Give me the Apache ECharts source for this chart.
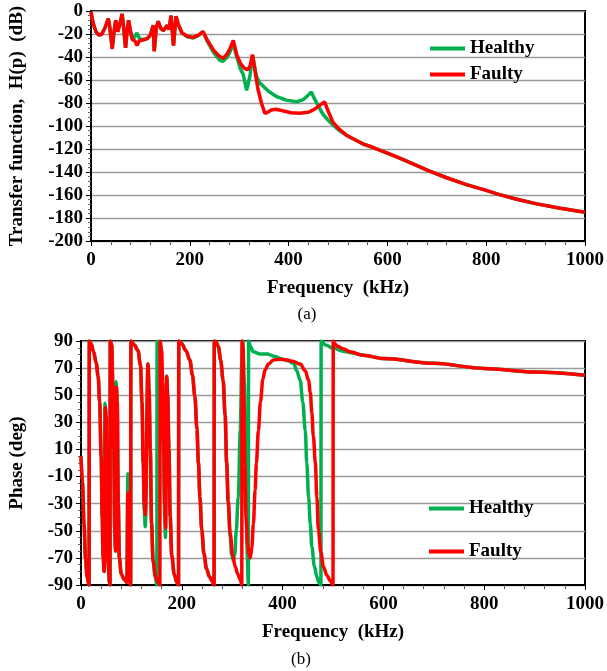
<!DOCTYPE html>
<html>
<head>
<meta charset="utf-8">
<script src="https://cdn.jsdelivr.net/npm/echarts@6/dist/echarts.min.js"></script>
<style>
html,body{margin:0;padding:0;background:#fff;}
#c{width:607px;height:671px;}
</style>
</head>
<body>
<div id="c"></div>
<script>
// ---------- (a) Transfer function magnitude ----------
const magHealthyKHz = [0,4,10,16,22,28,35,38,43,46,50,54,58,63,66,70,73,76,80,84,89,93,98,106,114,120,126,128,132,136,141,147,154,158,162,167,172,177,184,195,207,217,227,235,248,260,266,276,282,288,295,303,308,315,322,327,335,342,360,376,395,416,430,440,446,452,463,470,480,490,503,517,550,570,600,625,660,684,720,760,800,825,860,900,950,1000];
const magHealthyDb  = [-1,-10,-18,-21,-20,-15,-6.5,-14,-33,-20,-8,-18,-12,-2.5,-14,-32,-18,-8,-18,-25,-22,-19,-24,-25,-24,-21,-12.5,-35,-15,-9,-15,-17,-12.5,-16,-4,-30,-4.6,-12,-19,-22.5,-23.5,-21.5,-18,-26,-36,-42.5,-44,-40,-35,-28,-40,-51,-55,-69,-56,-38.5,-57,-62.7,-70,-74.5,-77.5,-79,-77,-73,-70.5,-76,-85,-90,-95,-99,-104,-108,-115.5,-118.5,-123.5,-128,-134.5,-139,-145,-151,-156,-159.5,-163.5,-167.5,-171.5,-175];

const magFaultyKHz = [0,4,10,16,22,28,35,38,43,46,50,54,58,63,66,70,73,76,80,84,89,93,98,106,114,120,126,128,132,136,141,147,154,158,162,167,172,177,184,195,207,217,227,235,248,260,268,276,282,288,295,303,311,318,322,327,332,338,345,352,358,365,375,390,405,423,440,452,463,473,480,490,503,517,550,570,600,625,660,684,720,760,800,825,860,900,950,1000];
const magFaultyDb  = [-1,-10,-18,-21,-20,-15,-6.5,-14,-33,-20,-8,-18,-12,-2.5,-14,-32,-18,-8,-18,-25,-26,-30,-26,-25,-24,-21,-12.5,-35,-15,-9,-15,-17,-12.5,-16,-4,-30,-4.6,-12,-19,-22,-23,-21,-18,-25,-34,-39.5,-41,-37,-32,-25.5,-38,-46,-50,-51,-48,-38,-52,-68,-80,-89,-88,-86,-85.5,-87,-88.5,-89,-88,-85.5,-82,-79,-87,-97,-103,-108,-115.5,-118.5,-123.5,-128,-134.5,-139,-145,-151,-156,-159.5,-163.5,-167.5,-171.5,-175];

// ---------- (b) Phase ----------
const phaseHealthyKHz = [0,3,6,9,12,16,16.5,20,25,30,34,37,40,42,44,46,47.5,49.5,52,54,56.5,57.5,58,61,63,65,67,68.5,69.5,71.5,74,76,80,86,91,93,94,95.5,98.5,99,106,113,118,121,123.5,125.5,127.5,133,135,137.5,140,143,147,150.5,151,154,158,161,163.5,166,167.5,170,172,174.5,177,180,185,190,193.5,194,200,208,216,221,226,230,233,236,239.5,244,249,255,260,264,264.5,268,272.5,277,282,286,289,292,296,299,302,305,308,312,316,319,321,324,327,330,332,332.5,336,342,355,369,385,395,410,422,428,435,440,445,448,451.5,455,458,463,468,472,476,476.5,485,501,520,540,560,600,700,800,900,1000];
const phaseHealthyDeg = [5,-15,-45,-70,-84,-90,90,88,82,74,64,45,5,-40,-70,-80,44,30,-40,-75,-88,-90,90,87,60,10,-50,-65,60,45,-30,-70,-82,-86,-88,-8,-20,-80,-90,90,87,83,72,45,0,-35,-47,73,55,10,-45,-72,-84,-90,90,88,80,55,10,-40,-55,64,50,10,-40,-68,-82,-88,-90,90,88,83,76,65,49,25,0,-25,-49,-67,-78,-84,-87,-90,90,89,86,76,61,35,0,-28,-55,-68,-71.6,-68,-50,-25,24,74,90,60,0,-70,-90,90,86,82,80.5,80.4,78.5,77,75.5,73.5,68,61,45,24,0,-25,-45,-61.7,-76,-84,-88,-90,90,87,84.6,82.5,81,79.5,77,73.5,69.8,67.2,64.8];

const phaseFaultyKHz = [0,3,6,9,12,16,16.5,20,25,30,34,37,40,42,44,46,48.5,50,52,54,56.5,57.5,58,61,63,65,67,68.5,70.5,72,74,76,80,86,91,93,95,98.5,99,106,113,118,121,123.5,125.5,127.5,133,135,137.5,140,143,148,153,156.5,157,160,162,164,166,168,170,172,174.5,177,180,185,190,193.5,194,200,208,216,221,226,230,233,236,239.5,244,249,255,260,264,264.5,268,272.5,277,282,286,289,292,296,301,306,311,316,319,319.5,321.5,323,325,327.5,330.5,334,336,339,342,345.5,348,352,356,361,365,372,382,395,408.5,420,435,445,451.5,455,458,461,465,468,471,476,481,488,495,500,500.5,503,510,520,534,560,600,700,800,900,1000];
const phaseFaultyDeg = [5,-15,-45,-70,-84,-90,90,88,82,74,64,45,5,-40,-70,-80,41,35,-40,-75,-88,-90,90,87,60,10,-50,-65,56,45,-30,-70,-82,-86,-88,-22,-80,-90,90,87,83,72,45,0,-30,-38,73,55,10,-45,-72,-84,-88,-90,90,83,60,15,-30,-48,64,50,10,-40,-68,-82,-88,-90,90,88,83,76,65,49,25,0,-25,-49,-67,-78,-84,-87,-90,90,89,86,76,61,35,0,-28,-52,-68,-76.5,-82,-86,-90,90,86,50,0,-40,-60,-68.5,-70,-62,-45,-20,0,24,45,62,68.6,73,76,76.5,76,75,73,68,61,52,37,20,0,-25,-49,-66,-76.5,-83,-87,-90,90,88,86,84.3,82,79.5,77,73.5,69.8,67.2,64.8];

const xTicks = [0,200,400,600,800,1000];
const magTicks = [-200,-180,-160,-140,-120,-100,-80,-60,-40,-20,0];
const phaseTicks = [-90,-70,-50,-30,-10,10,30,50,70,90];

function zip(a,b){ return a.map((v,i)=>[v,b[i]]); }

const GREEN = '#00B050', RED = '#FF0000';
const FONT = 'Liberation Serif';
const labelStyle = {color:'#000', fontFamily:FONT, fontWeight:'bold', fontSize:19};

function xAxisCfg(gi){
  return {
    type:'value', gridIndex:gi, min:xTicks[0], max:xTicks[xTicks.length-1], interval:xTicks[1]-xTicks[0],
    name:'Frequency  (kHz)', nameLocation:'middle', nameGap:38,
    nameTextStyle:Object.assign({}, labelStyle),
    axisLine:{show:true, onZero:false, lineStyle:{color:'#000', width:2}},
    axisTick:{show:true, length:5, lineStyle:{color:'#000', width:1}},
    minorTick:{show:true, splitNumber:5, length:4, lineStyle:{color:'#555', width:1}},
    splitLine:{show:false},
    axisLabel:Object.assign({margin:10, formatter:(v)=>String(v)}, labelStyle)
  };
}
function yAxisCfg(gi, ticks, name, gap, margin, minorSplit){
  return {
    type:'value', gridIndex:gi, min:ticks[0], max:ticks[ticks.length-1], interval:ticks[1]-ticks[0],
    name:name, nameLocation:'middle', nameGap:gap,
    nameTextStyle:Object.assign({}, labelStyle),
    axisLine:{show:true, onZero:false, lineStyle:{color:'#000', width:2}},
    axisTick:{show:true, length:5, lineStyle:{color:'#000', width:1}},
    minorTick:{show:true, splitNumber:minorSplit, length:3, lineStyle:{color:'#666', width:1}},
    splitLine:{show:true, lineStyle:{color:'#9a9a9a', width:1.3}},
    axisLabel:Object.assign({margin:margin, formatter:(v)=>String(v)}, labelStyle)
  };
}

const chart = echarts.init(document.getElementById('c'), null, {renderer:'canvas'});
chart.setOption({
  animation:false,
  backgroundColor:'#fff',
  grid:[
    {left:90, top:11, width:497, height:230, show:true, borderColor:'#000', borderWidth:2},
    {left:81, top:341, width:504, height:244, show:true, borderColor:'#000', borderWidth:2}
  ],
  xAxis:[xAxisCfg(0), xAxisCfg(1)],
  yAxis:[
    yAxisCfg(0, magTicks, 'Transfer function,  H(p)  (dB)', 64, 8, 5),
    yAxisCfg(1, phaseTicks, 'Phase (deg)', 54, 8, 4)
  ],
  legend:[
    {orient:'vertical', left:425, top:34, itemWidth:35, itemHeight:4, itemGap:7, icon:'rect',
     textStyle:Object.assign({}, labelStyle), data:['Healthy','Faulty']},
    {orient:'vertical', left:424, top:494, itemWidth:35, itemHeight:4, itemGap:24, icon:'rect',
     textStyle:Object.assign({}, labelStyle), data:['Healthy','Faulty']}
  ],
  graphic:[
    {type:'text', x:307, y:315, style:{text:'(a)', fill:'#000', font:'17px "Liberation Serif"', align:'center', verticalAlign:'middle'}},
    {type:'text', x:301, y:660, style:{text:'(b)', fill:'#000', font:'17px "Liberation Serif"', align:'center', verticalAlign:'middle'}}
  ],
  series:[
    {name:'Healthy', type:'line', xAxisIndex:0, yAxisIndex:0, data:zip(magHealthyKHz, magHealthyDb),
     showSymbol:false, symbol:'none', color:GREEN, lineStyle:{color:GREEN, width:3.5}},
    {name:'Faulty', type:'line', xAxisIndex:0, yAxisIndex:0, data:zip(magFaultyKHz, magFaultyDb),
     showSymbol:false, symbol:'none', color:RED, lineStyle:{color:RED, width:3.5}},
    {name:'Healthy', type:'line', xAxisIndex:1, yAxisIndex:1, data:zip(phaseHealthyKHz, phaseHealthyDeg),
     showSymbol:false, symbol:'none', smooth:0.35, smoothMonotone:'x', color:GREEN, lineStyle:{color:GREEN, width:3.5}},
    {name:'Faulty', type:'line', xAxisIndex:1, yAxisIndex:1, data:zip(phaseFaultyKHz, phaseFaultyDeg),
     showSymbol:false, symbol:'none', smooth:0.35, smoothMonotone:'x', color:RED, lineStyle:{color:RED, width:3.5}}
  ]
});
</script>
</body>
</html>
